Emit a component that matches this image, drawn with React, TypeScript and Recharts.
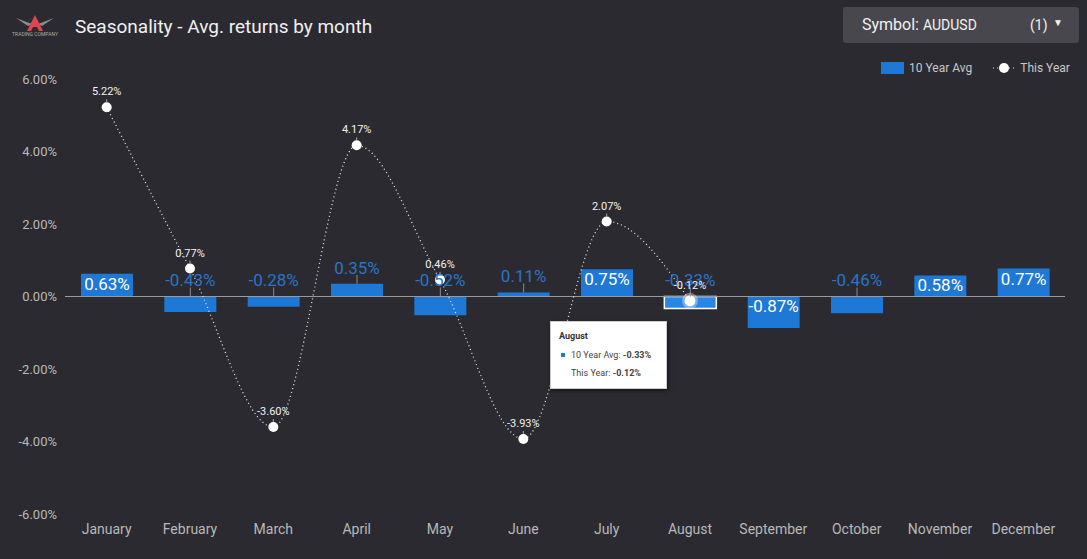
import React from 'react'
import { ComposedChart, Bar, Line, Cell, XAxis, YAxis, ReferenceLine, LabelList, Tooltip } from 'recharts'

const months = ['January', 'February', 'March', 'April', 'May', 'June', 'July', 'August', 'September', 'October', 'November', 'December']
const avg10 = [0.63, -0.43, -0.28, 0.35, -0.52, 0.11, 0.75, -0.33, -0.87, -0.46, 0.58, 0.77]
const thisYear = [5.22, 0.77, -3.6, 4.17, 0.46, -3.93, 2.07, -0.12, null, null, null, null]
const yTicks = [-6, -4, -2, 0, 2, 4, 6]
const activeIdx = 7

const data = months.map((m, i) => ({ month: m, avg: avg10[i], year: thisYear[i] }))

const BG = '#2b2a30'
const BLUE = '#1e78d6'
const FONT = 'Roboto, "Noto Sans", sans-serif'

const pct = (v: number) => v.toFixed(2) + '%'

const BarLabel = (props: any) => {
  const { x, y, width, height, value } = props
  const top = Math.min(y, y + height)
  const bottom = Math.max(y, y + height)
  const h = bottom - top
  const cx = x + width / 2
  if (h >= 20) {
    return (
      <text x={cx} y={top + 10} dy="0.35em" textAnchor="middle" fill="#ffffff" fontSize={17} fontFamily={FONT}>
        {pct(value)}
      </text>
    )
  }
  const anchor = value >= 0 ? top : top
  return (
    <g>
      <line x1={cx} x2={cx} y1={anchor} y2={anchor - 9} stroke="#8a8a8a" strokeWidth={1} />
      <text x={cx} y={anchor - 16} dy="0.35em" textAnchor="middle" fill="#2a74c8" fontSize={17} fontFamily={FONT}>
        {pct(value)}
      </text>
    </g>
  )
}

const LineLabel = (props: any) => {
  const { x, y, value } = props
  if (value == null) return null
  return (
    <g>
      <line x1={x} x2={x} y1={y - 5} y2={y - 8} stroke="#aaaaaa" strokeWidth={1} />
      <text x={x} y={y - 13} dy="0.1em" textAnchor="middle" fill="#f2f2f2" fontSize={11} fontFamily={FONT}>
        {pct(value)}
      </text>
    </g>
  )
}

const YearDot = (props: any) => {
  const { cx, cy, index, value } = props
  if (value == null || cx == null || cy == null) return <g key={index} />
  if (index === activeIdx) {
    return (
      <g key={index}>
        <circle cx={cx} cy={cy} r={8} fill="rgba(255,255,255,0.35)" />
        <circle cx={cx} cy={cy} r={5.5} fill="#ffffff" />
      </g>
    )
  }
  return <circle key={index} cx={cx} cy={cy} r={5} fill="#ffffff" />
}

const TipBox = (props: any) => {
  const p = props.payload && props.payload.length ? props.payload : null
  const label = props.label ?? months[activeIdx]
  const a = p ? p.find((x: any) => x.dataKey === 'avg')?.value : avg10[activeIdx]
  const t = p ? p.find((x: any) => x.dataKey === 'year')?.value : thisYear[activeIdx]
  return (
    <div style={{ width: 117, height: 68, boxSizing: 'border-box', background: '#fff', boxShadow: '1px 2px 4px rgba(0,0,0,0.5)', border: '1px solid #ccc', fontFamily: FONT, fontSize: 9, color: '#444', padding: '9px 0 0 8px' }}>
      <div style={{ fontWeight: 700, color: '#333', marginBottom: 9 }}>{label}</div>
      <div style={{ display: 'flex', alignItems: 'center', marginBottom: 8 }}>
        <span style={{ width: 4, height: 4, background: BLUE, marginLeft: 2, marginRight: 6 }} />
        <span>10 Year Avg: <b>{pct(a)}</b></span>
      </div>
      <div style={{ paddingLeft: 12 }}>This Year: <b>{t == null ? '' : pct(t)}</b></div>
    </div>
  )
}

export default function App() {
  return (
    <div style={{ position: 'absolute', left: 0, top: 0, width: 1087, height: 559, background: BG, fontFamily: FONT, overflow: 'hidden' }}>
      {/* header */}
      <div style={{ position: 'absolute', left: 6, top: 12, width: 58, height: 26 }}>
        <svg width={58} height={26}>
          <path d="M10 6 L26 12 L22 14 Z M48 6 L32 12 L36 14 Z" fill="#8a8a90" />
          <path d="M29 3 L21 19 L25 19 L27 15 L31 15 L33 19 L37 19 Z" fill="#e0454f" />
          <text x={29} y={24} textAnchor="middle" fontSize={5} fill="#aaaaaa" fontFamily={FONT}>TRADING COMPANY</text>
        </svg>
      </div>
      <div style={{ position: 'absolute', left: 75, top: 15, fontSize: 19, color: '#f0f0f0' }}>Seasonality - Avg. returns by month</div>
      <div style={{ position: 'absolute', left: 843, top: 7, width: 236, height: 36, background: '#48474d', borderRadius: 3, color: '#f2f2f2' }}>
        <span style={{ position: 'absolute', left: 19, top: 8, fontSize: 16 }}>Symbol: <span style={{ fontSize: 14 }}>AUDUSD</span></span>
        <span style={{ position: 'absolute', left: 187, top: 10, fontSize: 14 }}>(1)</span>
        <span style={{ position: 'absolute', left: 210, top: 10, fontSize: 10 }}>▼</span>
      </div>
      {/* legend */}
      <div style={{ position: 'absolute', left: 881, top: 61, display: 'flex', alignItems: 'center', fontSize: 12, color: '#c8c8c8' }}>
        <span style={{ width: 23, height: 12, background: BLUE, marginRight: 5 }} />
        <span>10 Year Avg</span>
        <svg width={22} height={12} style={{ marginLeft: 21, marginRight: 5 }}>
          <line x1={0} x2={22} y1={6} y2={6} stroke="#dddddd" strokeDasharray="1 3" />
          <circle cx={11} cy={6} r={5} fill="#ffffff" />
        </svg>
        <span>This Year</span>
      </div>
      <div style={{ position: 'absolute', left: 0, top: 0 }}>
        <ComposedChart width={1087} height={559} data={data} margin={{ top: 79, right: 22, bottom: 15, left: 0 }}>
          <XAxis dataKey="month" axisLine={false} tickLine={false} height={30} tickMargin={4} interval={0}
            tick={{ fill: '#b8b8b8', fontSize: 14, fontFamily: FONT }} />
          <YAxis type="number" domain={[-6, 6]} ticks={yTicks} width={65} axisLine={false} tickLine={false}
            tickFormatter={(v: number) => pct(v)} tick={{ fill: '#b8b8b8', fontSize: 13, fontFamily: FONT }} />
          <ReferenceLine y={0} stroke="#9a9a9a" strokeWidth={1} />
          <Bar dataKey="avg" barSize={52} fill={BLUE} isAnimationActive={false}>
            {data.map((d, i) => (
              <Cell key={d.month} fill={i === activeIdx ? '#2a86e6' : BLUE} stroke={i === activeIdx ? '#ffffff' : 'none'} strokeWidth={i === activeIdx ? 1.5 : 0} />
            ))}
            <LabelList dataKey="avg" content={BarLabel} />
          </Bar>
          <Line dataKey="year" type="monotone" stroke="#e6e6e6" strokeWidth={1.3} strokeDasharray="1 3"
            dot={YearDot} activeDot={false} isAnimationActive={false}>
            <LabelList dataKey="year" content={LineLabel} />
          </Line>
          <Tooltip defaultIndex={activeIdx} active={true} cursor={false} position={{ x: 550, y: 321 }}
            isAnimationActive={false} content={TipBox} wrapperStyle={{ outline: 'none' }} />
        </ComposedChart>
      </div>
    </div>
  )
}
